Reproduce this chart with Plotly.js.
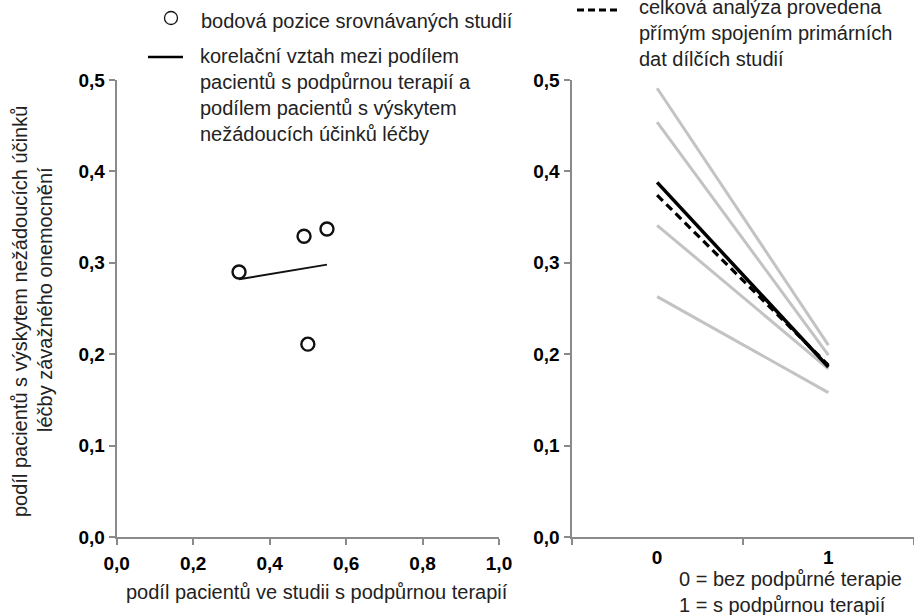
<!DOCTYPE html>
<html>
<head>
<meta charset="utf-8">
<script src="https://cdn.plot.ly/plotly-3.0.1.min.js"></script>
<style>html,body{margin:0;padding:0;background:#fff;}#chart{width:914px;height:615px;}</style>
</head>
<body>
<div id="chart"></div>
<script>
// ---- data ----
const studyX = [0.32, 0.49, 0.55, 0.50];
const studyY = [0.290, 0.329, 0.337, 0.211];
const trendX = [0.32, 0.55];
const trendY = [0.282, 0.298];

const groups = ["0", "1"];
const grayLines = [
  [0.491, 0.210],
  [0.454, 0.199],
  [0.341, 0.184],
  [0.263, 0.158]
];
const summarySolid = [0.388, 0.186];
const summaryDashed = [0.374, 0.188];

const yTicks = [0, 0.1, 0.2, 0.3, 0.4, 0.5];
const xTicks = [0, 0.2, 0.4, 0.6, 0.8, 1.0];

// ---- helpers (pixel -> paper) ----
const W = 914, H = 615;
const px = x => x / W;
const py = y => 1 - y / H;

const FONT = "Liberation Sans, Arial, sans-serif";
const TXT = "#222";

const traces = [];
traces.push({
  x: trendX, y: trendY, xaxis: 'x', yaxis: 'y', mode: 'lines',
  line: {color: '#111', width: 2}, hoverinfo: 'skip'
});
traces.push({
  x: studyX, y: studyY, xaxis: 'x', yaxis: 'y', mode: 'markers',
  marker: {symbol: 'circle-open', size: 13, color: '#111', line: {width: 2.4, color: '#111'}}
});
grayLines.forEach(v => traces.push({
  x: groups, y: v, xaxis: 'x2', yaxis: 'y2', mode: 'lines',
  line: {color: '#c3c3c3', width: 3}
}));
traces.push({
  x: groups, y: summaryDashed, xaxis: 'x2', yaxis: 'y2', mode: 'lines',
  line: {color: '#000', width: 3.2, dash: '8px,5px'}
});
traces.push({
  x: groups, y: summarySolid, xaxis: 'x2', yaxis: 'y2', mode: 'lines',
  line: {color: '#000', width: 3.5}
});

const tickFont = {family: FONT, size: 19, color: '#000', weight: 'bold'};
const axisCommon = {
  showgrid: false, zeroline: false, showline: true, linecolor: '#8a8a8a', linewidth: 2,
  ticks: 'outside', ticklen: 6, tickwidth: 2, tickcolor: '#8a8a8a', tickfont: tickFont
};
const yDom = [py(537), py(80)];

const layout = {
  width: W, height: H, showlegend: false,
  margin: {l: 0, r: 0, t: 0, b: 0},
  paper_bgcolor: '#fff', plot_bgcolor: 'rgba(0,0,0,0)',
  separators: ', ',
  font: {family: FONT, color: TXT},
  xaxis: Object.assign({}, axisCommon, {
    domain: [px(116.7), px(499)], range: [0, 1], tickvals: xTicks, tickformat: '.1f', anchor: 'y',
    ticklabelstandoff: 2
  }),
  yaxis: Object.assign({}, axisCommon, {
    domain: yDom, range: [0, 0.5], tickvals: yTicks, tickformat: '.1f', anchor: 'x'
  }),
  xaxis2: Object.assign({}, axisCommon, {
    domain: [px(571.5), 1], type: 'category', range: [-0.5, 1.5], tickson: 'boundaries', anchor: 'y2',
    ticklabelstandoff: 2
  }),
  yaxis2: Object.assign({}, axisCommon, {
    domain: yDom, range: [0, 0.5], tickvals: yTicks, tickformat: '.1f', anchor: 'x2'
  }),
  shapes: [
    {type: 'circle', xref: 'paper', yref: 'paper', x0: px(164.5), x1: px(177.5), y0: py(24.5), y1: py(11.5),
     line: {color: '#111', width: 1.3}},
    {type: 'line', xref: 'paper', yref: 'paper', x0: px(148), x1: px(183), y0: py(57), y1: py(57),
     line: {color: '#000', width: 2.5}},
    {type: 'line', xref: 'paper', yref: 'paper', x0: px(577), x1: px(620), y0: py(10), y1: py(10),
     line: {color: '#000', width: 3, dash: '7px,4px'}}
  ],
  annotations: [
    {xref: 'paper', yref: 'paper', x: px(199), y: py(21), xanchor: 'left', yanchor: 'middle', showarrow: false,
     align: 'left', text: 'bodová pozice srovnávaných studií', font: {size: 20, color: TXT}},
    {xref: 'paper', yref: 'paper', x: px(198), y: py(94.5), xanchor: 'left', yanchor: 'middle', showarrow: false,
     align: 'left', text: 'korelační vztah mezi podílem<br>pacientů s podpůrnou terapií a<br>podílem pacientů s výskytem<br>nežádoucích účinků léčby',
     font: {size: 20, color: TXT}},
    {xref: 'paper', yref: 'paper', x: px(637), y: py(33), xanchor: 'left', yanchor: 'middle', showarrow: false,
     align: 'left', text: 'celková analýza provedena<br>přímým spojením primárních<br>dat dílčích studií',
     font: {size: 20, color: TXT}},
    {xref: 'paper', yref: 'paper', x: px(677), y: py(591.5), xanchor: 'left', yanchor: 'middle', showarrow: false,
     align: 'left', text: '0 = bez podpůrné terapie<br>1 = s podpůrnou terapií',
     font: {size: 20, color: TXT}},
    {xref: 'paper', yref: 'paper', x: px(317), y: py(592), xanchor: 'center', yanchor: 'middle', showarrow: false,
     text: 'podíl pacientů ve studii s podpůrnou terapií', font: {size: 20, color: TXT}},
    {xref: 'paper', yref: 'paper', x: px(20), y: py(312), xanchor: 'center', yanchor: 'middle', showarrow: false,
     textangle: -90, text: 'podíl pacientů s výskytem nežádoucích účinků', font: {size: 20, color: TXT}},
    {xref: 'paper', yref: 'paper', x: px(45), y: py(300), xanchor: 'center', yanchor: 'middle', showarrow: false,
     textangle: -90, text: 'léčby závažného onemocnění', font: {size: 20, color: TXT}}
  ]
};

Plotly.newPlot('chart', traces, layout, {displayModeBar: false, staticPlot: true});
</script>
</body>
</html>
